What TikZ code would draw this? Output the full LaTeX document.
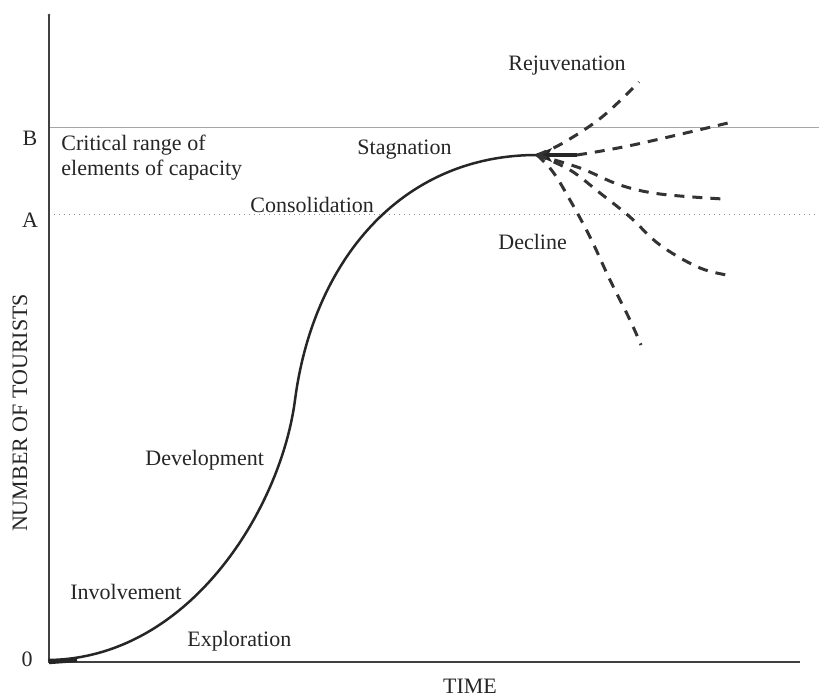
\documentclass[tikz,border=0pt]{standalone}
\usepackage{fontspec}
\setmainfont{Liberation Serif}
\begin{document}
\begin{tikzpicture}[x=0.5pt,y=-0.5pt,
  lbl/.style={inner sep=0pt,font=\fontsize{11}{12.5}\selectfont,text=black!85},
  axis/.style={draw=black!75,line width=0.8pt},
  curve/.style={draw=black!85,line width=1.25pt,line cap=round,line join=round},
  future/.style={draw=black!80,line width=1.5pt,dash pattern=on 5pt off 4pt},
  bline/.style={draw=black!35,line width=0.5pt},
  aline/.style={draw=black!45,line width=0.5pt,dotted}]
\useasboundingbox (0,0) rectangle (819,695);
\fill[white] (0,0) rectangle (819,695);
% reference coordinates
\coordinate (o) at (49,662);
\coordinate (ytop) at (49,15);
\coordinate (xend) at (800,662);
\coordinate (bl) at (49,128);
\coordinate (br) at (819,128);
\coordinate (al) at (49,215);
\coordinate (ar) at (819,215);
\coordinate (start) at (49,660);
\coordinate (infl) at (295,400);
\coordinate (peak) at (537,155);
\coordinate (flat) at (577,155);
% capacity lines
\draw[bline] (bl) -- (br);
\draw[aline] (al) -- (ar);
% axes
\draw[axis] (ytop) -- (o) -- (xend);
\fill[black!75] (ytop) circle (1.3);
% main curve
\draw[curve] (start) .. controls (190,658) and (281,508) .. (infl)
  .. controls (313,262) and (400,155) .. (peak);
\draw[black!85,line width=2.2pt] (o) -- (77,660);
% arrow-like junction
\fill[black!85] (535,155) -- (552,148) -- (548,155) -- (552,162) -- cycle;
\draw[black!85,line width=2pt] (peak) -- (flat);
% future paths
\draw[future] plot[smooth,tension=0.6] coordinates {(peak) (563,143) (602,117) (639,82)};
\draw[future] plot[smooth,tension=0.6] coordinates {(flat) (633,145) (728,123)};
\draw[future] plot[smooth,tension=0.6] coordinates {(peak) (580,168) (620,185) (660,194) (723,199)};
\draw[future] plot[smooth,tension=0.6] coordinates {(peak) (570,170) (600,193) (630,217) (660,245) (700,268) (733,276)};
\draw[future] plot[smooth,tension=0.6] coordinates {(peak) (553,172) (570,200) (590,237) (610,280) (630,320) (641,345)};
% axis labels
\node[lbl] (zero) at (27,659) {0};
\node[lbl] (labA) at (30,220) {A};
\node[lbl] (labB) at (30,138) {B};
\node[lbl] (time) at (470,686) {TIME};
\node[lbl,rotate=90] (ylab) at (20,413) {NUMBER OF TOURISTS};
% stage labels
\node[lbl,anchor=west,align=left] (crit) at (61,158) {Critical range of\\elements of capacity};
\node[lbl,anchor=west] (expl) at (187,641) {Exploration};
\node[lbl,anchor=west] (invo) at (70,592) {Involvement};
\node[lbl,anchor=west] (deve) at (145,460) {Development};
\node[lbl,anchor=west] (cons) at (250,205) {Consolidation};
\node[lbl,anchor=west] (stag) at (357,150) {Stagnation};
\node[lbl,anchor=west] (decl) at (498,242) {Decline};
\node[lbl,anchor=west] (reju) at (508,66) {Rejuvenation};
\end{tikzpicture}
\end{document}
